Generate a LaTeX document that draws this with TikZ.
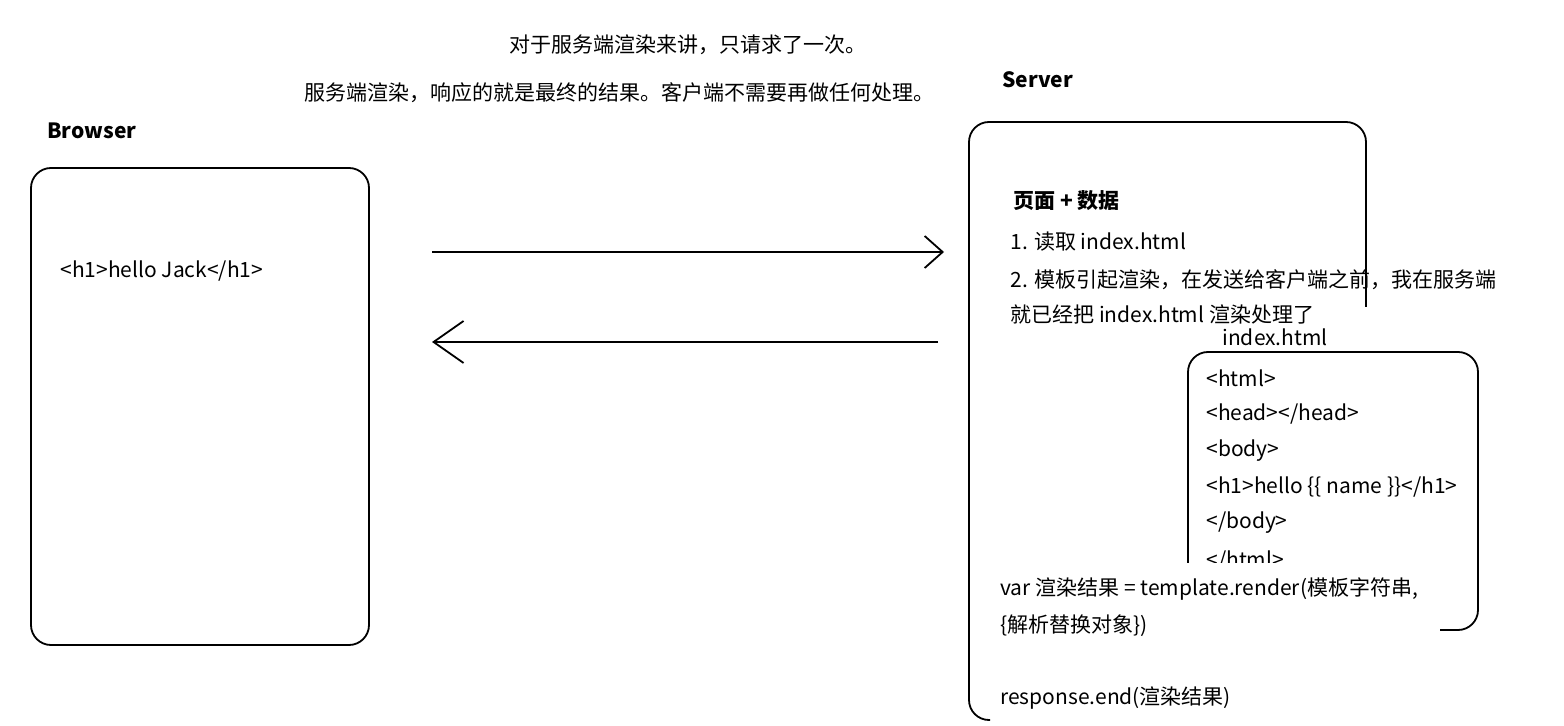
\documentclass[tikz,border=0pt]{standalone}
\usepackage{fontspec}
\setmainfont{Noto Sans CJK SC}
\usetikzlibrary{arrows.meta,positioning}

\begin{document}
\fontsize{10.5}{18.5}\selectfont
\begin{tikzpicture}[x=0.5pt,y=-0.5pt,
    txt/.style={anchor=west,inner sep=0pt},
    boxline/.style={line width=0.9pt,rounded corners=10pt}]
    \useasboundingbox (0,0) rectangle (1564,726);

    % headline
    \node (title1) at (688,45) {对于服务端渲染来讲，只请求了一次。};
    \node (title2) at (619,93) {服务端渲染，响应的就是最终的结果。客户端不需要再做任何处理。};

    % browser side
    \node[txt,font=\bfseries] (browserlabel) at (47,131) {Browser};
    \draw[boxline] (31,168) rectangle (369,645);
    \node[txt] (result) at (60,271) {<h1>hello Jack</h1>};

    % request and response
    \coordinate (reqfrom) at (432,252);
    \coordinate (reqto) at (944,252);
    \coordinate (respfrom) at (938,342);
    \coordinate (respto) at (432,342);
    \draw[line width=0.9pt,-{Straight Barb[length=9pt,width=16pt]}] (reqfrom) -- (reqto);
    \draw[line width=0.9pt,-{Straight Barb[length=15pt,width=21pt]}] (respfrom) -- (respto);

    % server side
    \node[txt,font=\bfseries] (serverlabel) at (1002,80) {Server};
    \draw[boxline] (990,720) -| (969,122) -| (1366,307);
    \node[txt,font=\bfseries] (pagedata) at (1013,201) {页面 + 数据};
    \node[txt] (step1) at (1010,242) {1. 读取 index.html};
    \node[txt] (step2) at (1010,280) {2. 模板引起渲染，在发送给客户端之前，我在服务端};
    \node[txt] (step2b) at (1010,315) {就已经把 index.html 渲染处理了};

    % template file
    \node[txt] (filelabel) at (1222,337) {index.html};
    \draw[boxline,fill=white] (1188,352) rectangle (1478,630);
    \node[txt] (html1) at (1206,378) {<html>};
    \node[txt] (html2) at (1206,414) {<head></head>};
    \node[txt] (html3) at (1206,451) {<body>};
    \node[txt] (html4) at (1206,487) {<h1>hello \{\{ name \}\}</h1>};
    \node[txt] (html5) at (1206,523) {</body>};
    \node[txt] (html6) at (1206,561) {</html>};

    % render call, covers the end of the file
    \fill[white] (995,563) rectangle (1440,648);
    \node[txt] (render1) at (1000,589) {var 渲染结果 = template.render(模板字符串,};
    \node[txt] (render2) at (1000,626) {\{解析替换对象\})};
    \node[txt] (respend) at (1000,698) {response.end(渲染结果)};

\end{tikzpicture}
\end{document}
